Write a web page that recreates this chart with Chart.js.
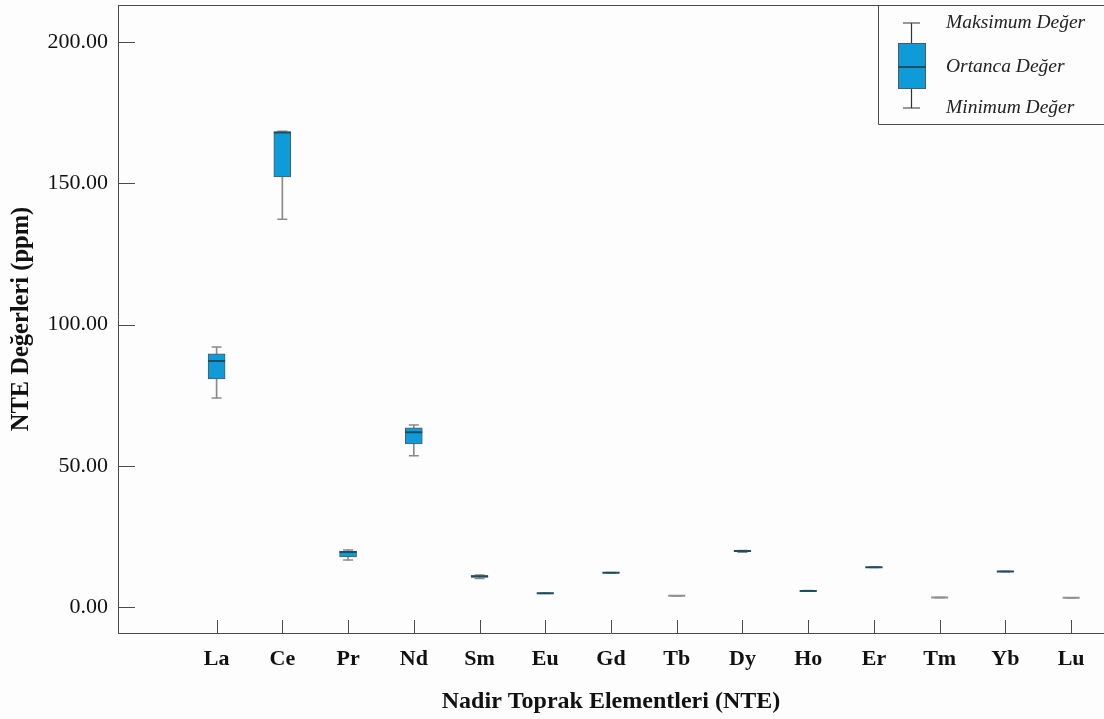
<!DOCTYPE html>
<html><head><meta charset="utf-8">
<script src="https://cdn.jsdelivr.net/npm/chart.js@4/dist/chart.umd.min.js"></script>
<style>html,body{margin:0;padding:0;background:#fdfdfd}canvas{display:block}</style>
</head><body>
<canvas id="c" width="1104" height="719"></canvas>
<script>
// ---- data (ppm) ----
const categories = ['', 'La', 'Ce', 'Pr', 'Nd', 'Sm', 'Eu', 'Gd', 'Tb', 'Dy', 'Ho', 'Er', 'Tm', 'Yb', 'Lu'];
const minVals    = [null, 74.0, 137.3, 16.6, 53.5, 10.1, 4.8,  12.0,  4.0, 19.4, 5.6,  14.0,  3.4, 12.5,  3.3];
const q1Vals     = [null, 80.7, 152.2, 17.7, 57.7, 10.5, 4.85, 12.05, 4.0, 19.6, 5.65, 14.05, 3.4, 12.55, 3.3];
const medianVals = [null, 87.1, 168.0, 19.5, 61.9, 10.9, 4.9,  12.1,  4.0, 19.8, 5.7,  14.1,  3.4, 12.6,  3.3];
const q3Vals     = [null, 89.6, 168.2, 19.8, 63.4, 11.1, 4.95, 12.15, 4.0, 19.9, 5.75, 14.15, 3.4, 12.65, 3.3];
const maxVals    = [null, 92.0, 168.4, 20.2, 64.4, 11.3, 5.0,  12.2,  4.0, 20.0, 5.8,  14.2,  3.4, 12.7,  3.3];
const yTicks = [0, 50, 100, 150, 200];
const yTitle = 'NTE Değerleri (ppm)';
const xTitle = 'Nadir Toprak Elementleri (NTE)';
const legendLabels = ['Maksimum Değer', 'Ortanca Değer', 'Minimum Değer'];

const SERIF = "'Liberation Serif', 'Times New Roman', serif";
const BOX_FILL = '#0e9bd8';
const BOX_EDGE = '#4f5b60';
const MED_COL = '#1b4d63';
const WHISK = '#8a8a8a';
const AXIS = '#4a4a4a';

const frame = {
  id: 'frame',
  beforeDraw(chart) {
    const ctx = chart.ctx;
    ctx.save();
    ctx.fillStyle = '#fdfdfd';
    ctx.fillRect(0, 0, chart.width, chart.height);
    ctx.restore();
  },
  afterDraw(chart) {
    const ctx = chart.ctx, a = chart.chartArea;
    const ys = chart.scales.y, xs = chart.scales.x;
    ctx.save();
    ctx.strokeStyle = AXIS;
    ctx.lineWidth = 1;
    // top border
    ctx.beginPath();
    ctx.moveTo(a.left, Math.round(a.top) + 0.5);
    ctx.lineTo(a.right, Math.round(a.top) + 0.5);
    ctx.stroke();
    // y tick marks (inside)
    yTicks.forEach(v => {
      const y = Math.round(ys.getPixelForValue(v)) + 0.5;
      ctx.beginPath();
      ctx.moveTo(a.left, y);
      ctx.lineTo(a.left + 17, y);
      ctx.stroke();
    });
    // x tick marks (inside)
    categories.forEach((c, i) => {
      if (!c) return;
      const x = Math.round(xs.getPixelForValue(i)) + 0.5;
      ctx.beginPath();
      ctx.moveTo(x, a.bottom);
      ctx.lineTo(x, a.bottom - 13);
      ctx.stroke();
    });
    // legend
    const L = 878.5, T = Math.round(a.top) + 0.5, B = 124.5;
    ctx.fillStyle = '#fdfdfd';
    ctx.fillRect(L, T + 0.5, chart.width - L, B - T - 0.5);
    ctx.strokeStyle = AXIS;
    ctx.beginPath();
    ctx.moveTo(chart.width, B);
    ctx.lineTo(L, B);
    ctx.lineTo(L, T);
    ctx.stroke();
    const cx = 911.5;
    ctx.strokeStyle = '#333';
    ctx.lineWidth = 1.2;
    ctx.beginPath();
    ctx.moveTo(cx, 23); ctx.lineTo(cx, 108);
    ctx.moveTo(903, 23); ctx.lineTo(920, 23);
    ctx.moveTo(903, 108); ctx.lineTo(920, 108);
    ctx.stroke();
    ctx.fillStyle = BOX_FILL;
    ctx.fillRect(898, 43, 28, 46);
    ctx.strokeStyle = BOX_EDGE;
    ctx.lineWidth = 1;
    ctx.strokeRect(898.5, 43.5, 27, 45);
    ctx.strokeStyle = MED_COL;
    ctx.lineWidth = 2;
    ctx.beginPath();
    ctx.moveTo(898, 67); ctx.lineTo(926, 67);
    ctx.stroke();
    ctx.fillStyle = '#222';
    ctx.font = 'italic 19.5px ' + SERIF;
    ctx.textAlign = 'left';
    ctx.textBaseline = 'middle';
    const ly = [23, 67, 108];
    legendLabels.forEach((t, i) => ctx.fillText(t, 946, ly[i]));
    ctx.restore();
  }
};

const pair = (a, b) => categories.map((c, i) => (a[i] == null ? null : [a[i], b[i]]));

new Chart(document.getElementById('c'), {
  type: 'bar',
  data: {
    labels: categories,
    datasets: [
      {
        label: 'whisker',
        data: pair(minVals, maxVals),
        backgroundColor: WHISK,
        barThickness: 1,
        grouped: false,
        order: 5
      },
      {
        label: 'box',
        data: pair(q1Vals, q3Vals),
        backgroundColor: BOX_FILL,
        borderColor: BOX_EDGE,
        borderWidth: 1,
        borderSkipped: false,
        barThickness: 17,
        grouped: false,
        order: 4
      },
      {
        type: 'line',
        label: 'max',
        data: maxVals,
        showLine: false,
        pointStyle: 'line',
        pointRadius: 5,
        pointBorderWidth: 1.5,
        pointBorderColor: WHISK,
        order: 3
      },
      {
        type: 'line',
        label: 'min',
        data: minVals,
        showLine: false,
        pointStyle: 'line',
        pointRadius: 5,
        pointBorderWidth: 1.5,
        pointBorderColor: WHISK,
        order: 3
      },
      {
        type: 'line',
        label: 'median',
        data: medianVals,
        showLine: false,
        pointStyle: 'line',
        pointRadius: 8.5,
        pointBorderWidth: 2,
        pointBorderColor: ctx => {
          const i = ctx.dataIndex;
          return (q3Vals[i] - q1Vals[i] > 0.01) ? MED_COL : '#909090';
        },
        order: 1
      }
    ]
  },
  options: {
    responsive: false,
    animation: false,
    events: [],
    layout: { autoPadding: false, padding: { top: 5, left: 0, right: 0, bottom: 0 } },
    plugins: { legend: { display: false }, tooltip: { enabled: false } },
    scales: {
      x: {
        offset: true,
        grid: { display: false },
        border: { display: true, color: AXIS, width: 1 },
        ticks: {
          color: '#111',
          font: { family: SERIF, size: 22, weight: 'bold' },
          padding: 5,
          autoSkip: false,
          maxRotation: 0
        },
        title: {
          display: true,
          text: xTitle,
          color: '#111',
          font: { family: SERIF, size: 24, weight: 'bold' },
          padding: { top: 0, bottom: 3 }
        },
        afterFit: s => { s.height = 86; s.paddingLeft = 0; s.paddingRight = 0; }
      },
      y: {
        min: -9.2,
        max: 213.1,
        grid: { display: false },
        border: { display: true, color: AXIS, width: 1 },
        afterBuildTicks: s => { s.ticks = yTicks.map(v => ({ value: v })); },
        ticks: {
          color: '#111',
          font: { family: SERIF, size: 22 },
          padding: 2,
          callback: v => Number(v).toFixed(2)
        },
        title: {
          display: true,
          text: yTitle,
          color: '#111',
          font: { family: SERIF, size: 24.5, weight: 'bold' },
          padding: { top: 7, bottom: 0 }
        },
        afterFit: s => { s.width = 118; s.paddingTop = 0; s.paddingBottom = 0; }
      }
    }
  },
  plugins: [frame]
});
</script>
</body></html>
